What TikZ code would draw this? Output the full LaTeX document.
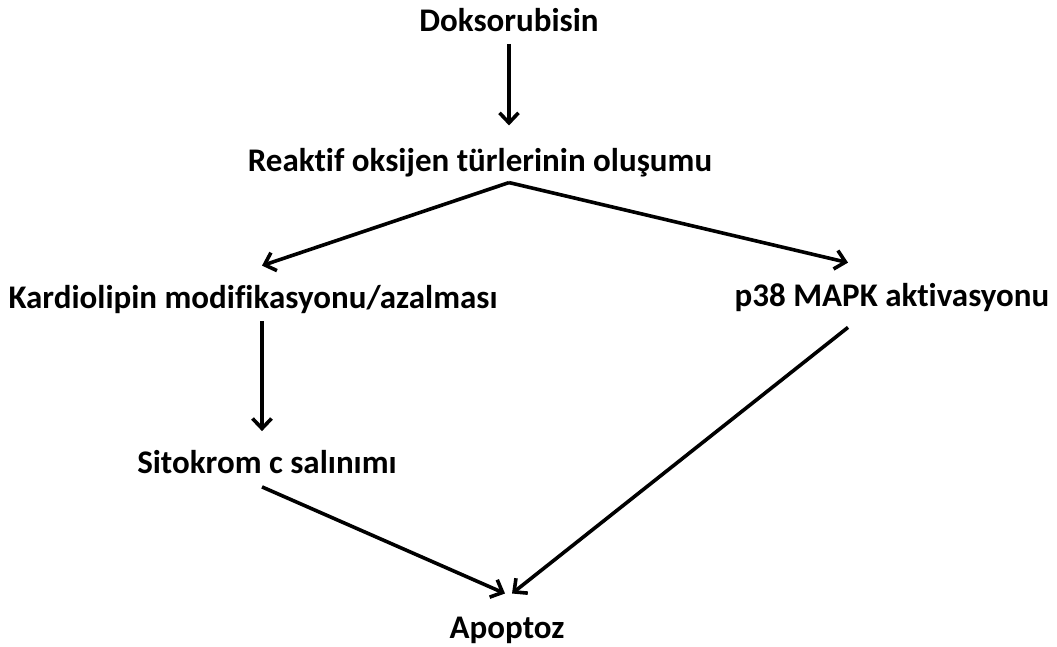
\documentclass[tikz,border=0pt]{standalone}
\usepackage{fontspec}
\setmainfont{Carlito}[Ligatures=NoCommon]
\usetikzlibrary{arrows.meta}
\begin{document}
\begin{tikzpicture}[x=1pt,y=-1pt,
  lbl/.style={font=\bfseries\fontsize{33}{36}\selectfont, inner sep=0pt, anchor=center},
  arr/.style={line width=3.6pt, -{Straight Barb[length=10pt,width=19pt,line width=3.6pt]}}]
\useasboundingbox[fill=white] (0,0) rectangle (1057,646);
\node[lbl] (doks) at (509,20) {Doksorubisin};
\node[lbl] (reak) at (480,163) {Reaktif oksijen türlerinin oluşumu};
\node[lbl] (kard) at (253,300) {Kardiolipin modifikasyonu/azalması};
\node[lbl] (p38) at (892,298) {p38 MAPK aktivasyonu};
\node[lbl] (sito) at (267,462) {Sitokrom c salınımı};
\node[lbl] (apop) at (507,630) {Apoptoz};
\draw[arr] ([yshift=-12pt]doks.south) -- ([yshift=23pt]doks.south |- reak.north);
\draw[arr] ([xshift=29pt,yshift=-5pt]reak.south) -- ([xshift=9pt,yshift=20pt]kard.north);
\draw[arr] ([xshift=29pt,yshift=-5pt]reak.south) -- ([xshift=-44pt,yshift=21pt]p38.north);
\draw[arr] ([xshift=9pt,yshift=-7pt]kard.south) -- ([xshift=-5pt,yshift=19pt]sito.north);
\draw[arr] ([xshift=-5pt,yshift=-13pt]sito.south) -- ([xshift=-2pt,yshift=23pt]apop.north);
\draw[arr] ([xshift=-44pt,yshift=-15pt]p38.south) -- ([xshift=5pt,yshift=23pt]apop.north);
\end{tikzpicture}
\end{document}
